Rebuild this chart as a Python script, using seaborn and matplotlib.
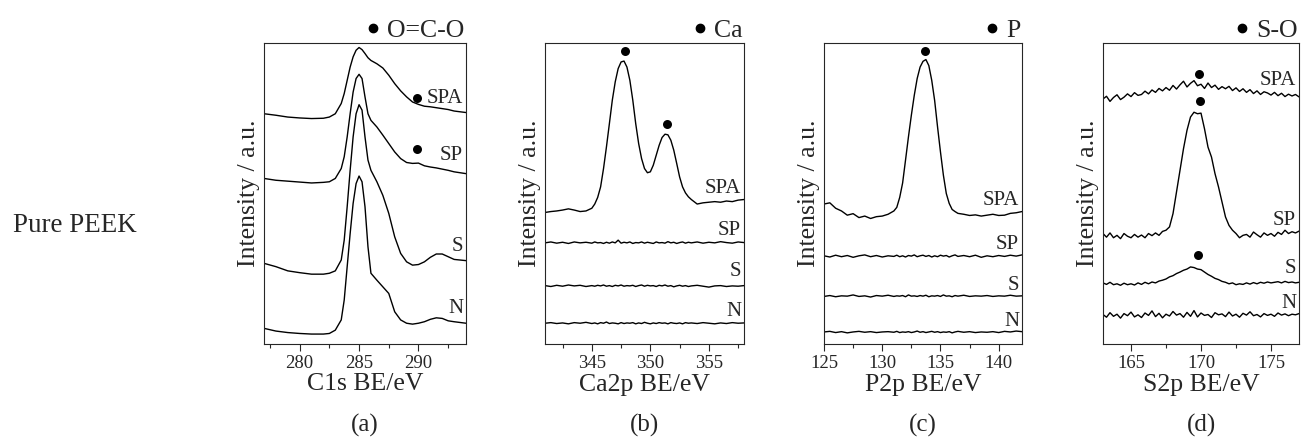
import matplotlib
matplotlib.use("Agg")
import matplotlib.pyplot as plt
from matplotlib.lines import Line2D
from matplotlib.ticker import MultipleLocator
import pandas as pd
import seaborn as sns

samples = ["SPA", "SP", "S", "N"]

# ---- (a) C1s ----
c1s_be = [277, 278, 279, 280, 281, 282, 282.5, 283, 283.5, 283.75,
          284, 284.25, 284.5, 284.75, 285, 285.25, 285.5, 285.75, 286, 286.5,
          287, 287.5, 288, 288.5, 289, 289.5, 290, 290.5, 291, 291.5,
          292, 292.5, 293, 294]
c1s_spa = [76.5, 76.0, 75.4, 75.1, 74.9, 75.0, 75.4, 76.5, 79.9, 83.2,
           87.6, 92.0, 95.4, 97.6, 98.5, 97.8, 96.5, 95.1, 94.2, 93.1,
           91.7, 89.3, 86.5, 84.1, 82.1, 80.4, 79.6, 79.0, 78.8, 78.5,
           78.2, 77.9, 77.4, 76.9]
c1s_sp = [55.0, 54.4, 54.1, 53.8, 53.5, 53.7, 53.9, 55.0, 58.3, 62.2,
          68.8, 76.5, 83.7, 88.2, 89.6, 88.2, 82.1, 76.5, 74.3, 72.1,
          69.4, 66.6, 63.8, 61.6, 60.3, 60.0, 60.1, 59.2, 58.8, 58.5,
          58.1, 57.7, 57.2, 56.6]
c1s_s = [26.8, 25.7, 24.3, 23.7, 23.2, 23.2, 23.5, 24.3, 27.9, 34.5,
         45.6, 57.7, 68.8, 76.5, 79.5, 77.7, 68.8, 61.1, 57.7, 53.9,
         49.4, 43.4, 35.6, 30.1, 27.3, 26.2, 26.4, 27.3, 28.8, 29.9,
         29.9, 29.0, 28.1, 27.7]
c1s_n = [5.2, 4.3, 3.8, 3.5, 3.3, 3.3, 3.5, 4.6, 8.0, 14.6,
         25.7, 36.7, 46.7, 53.3, 55.8, 53.9, 45.6, 32.3, 23.5, 21.2,
         19.0, 16.8, 10.7, 8.0, 6.9, 6.6, 6.9, 7.4, 8.2, 8.7,
         8.5, 7.7, 7.4, 6.9]
c1s_dot_x = [289.85, 289.85]
c1s_dot_y = [81.7, 64.9]

# ---- (b) Ca2p ----
ca_be = [341, 341.5, 342, 342.5, 343, 343.5, 344, 344.5, 345,
         345.25, 345.5, 345.75, 346, 346.25, 346.5, 346.75, 347, 347.25, 347.5,
         347.75, 348, 348.25, 348.5, 348.75, 349, 349.25, 349.5, 349.75, 350,
         350.25, 350.5, 350.75, 351, 351.25, 351.5, 351.75, 352, 352.25, 352.5,
         352.75, 353, 353.25, 353.5,
         354, 354.5, 355, 355.5, 356, 356.5, 357, 357.5, 358]
ca_spa = [43.7, 44.0, 44.2, 44.5, 44.9, 44.5, 44.0, 44.2, 45.1,
          46.5, 48.7, 52.2, 58.3, 65.5, 73.2, 81.0, 87.1, 91.5, 93.7,
          94.0, 92.0, 87.6, 81.0, 73.2, 66.6, 61.6, 58.3, 56.9, 57.2,
          59.4, 62.7, 66.0, 68.6, 69.7, 69.5, 67.7, 64.4, 60.0, 55.5,
          52.2, 50.2, 48.9, 48.0,
          46.5, 46.9, 47.1, 47.3, 47.1, 47.5, 47.3, 47.8, 48.0]
ca_sp = [33.6, 33.9, 33.5, 33.8, 33.4, 33.9, 33.6, 33.8, 33.5, 33.9,
         33.6, 33.7, 33.4, 33.8, 33.5, 33.9, 33.6, 34.5, 33.5, 33.8,
         33.6, 33.9, 33.4, 33.7, 33.6, 33.9, 33.5, 33.8, 33.6, 33.4,
         33.9, 33.6, 33.7, 33.5, 34.0, 33.6, 33.8, 33.4, 33.7, 33.9,
         33.5, 33.8, 33.6, 33.9, 33.5, 33.8, 33.6, 34.0, 33.7, 33.5,
         33.9, 33.7]
ca_s = [19.4, 19.1, 19.5, 19.2, 19.6, 19.3, 19.5, 19.1, 19.4, 19.2,
        19.5, 19.3, 19.6, 19.2, 19.4, 19.1, 19.5, 19.3, 19.6, 19.2,
        19.4, 19.3, 19.5, 19.1, 19.4, 19.6, 19.2, 19.5, 19.3, 19.4,
        19.1, 19.5, 19.3, 19.6, 19.2, 19.4, 19.0, 19.3, 19.5, 19.2,
        19.4, 19.1, 19.3, 19.5, 19.2, 18.9, 19.3, 19.4, 19.1, 19.3,
        19.2, 19.4]
ca_n = [6.9, 7.1, 6.8, 7.0, 6.7, 7.1, 6.9, 7.2, 6.8, 7.0,
        6.7, 7.1, 6.9, 7.3, 6.8, 7.0, 6.9, 6.7, 7.1, 6.8,
        7.0, 6.9, 7.1, 6.7, 7.0, 6.8, 7.2, 6.9, 6.7, 7.0,
        6.8, 7.1, 6.9, 7.0, 6.7, 7.1, 6.9, 6.8, 7.0, 6.7,
        7.1, 6.9, 7.0, 6.8, 7.1, 6.9, 6.7, 7.0, 6.8, 7.1,
        6.9, 7.0]
ca_dot_x = [347.8, 351.4]
ca_dot_y = [97.3, 73.2]

# ---- (c) P2p ----
p_be = [125, 125.5, 126, 126.5, 127, 127.5, 128, 128.5, 129, 129.5, 130, 130.5, 131,
        131.25, 131.5, 131.75, 132, 132.25, 132.5, 132.75, 133, 133.25, 133.5,
        133.75, 134, 134.25, 134.5, 134.75, 135, 135.25, 135.5, 135.75, 136,
        136.25, 136.5,
        137, 137.5, 138, 138.5, 139, 139.5, 140, 140.5, 141, 141.5, 142]
p_spa = [46.5, 46.9, 45.1, 44.2, 42.8, 43.3, 42.0, 42.5, 41.7, 42.3, 42.5, 43.1, 44.2,
         45.4, 48.7, 53.5, 61.1, 68.8, 76.0, 82.6, 88.2, 92.0, 93.9,
         94.5, 92.5, 87.6, 80.9, 72.1, 63.8, 56.1, 50.0, 46.7, 44.7,
         44.0, 43.4,
         43.1, 42.7, 42.9, 42.5, 42.8, 43.1, 42.7, 42.8, 43.4, 43.6, 44.0]
p_sp = [29.3, 28.9, 29.5, 29.0, 29.4, 28.8, 29.3, 29.6, 29.0, 29.4,
        28.9, 29.3, 29.1, 29.5, 29.0, 29.3, 28.9, 29.4, 29.2, 29.6,
        29.0, 29.3, 29.5, 29.1, 29.4, 28.9, 29.3, 29.0, 29.5, 29.2,
        29.4, 28.9, 29.3, 29.6, 29.1, 29.4, 29.0, 29.5, 28.8, 29.3,
        29.0, 29.4, 29.1, 29.5, 29.2, 29.6]
p_s = [15.8, 16.1, 15.7, 16.0, 15.9, 16.3, 15.8, 16.0, 15.6, 16.1,
       15.9, 16.2, 15.8, 16.0, 15.9, 16.1, 15.7, 16.3, 15.9, 16.0,
       15.8, 16.1, 15.9, 16.2, 15.7, 16.0, 15.9, 16.1, 15.8, 16.3,
       15.9, 16.0, 15.7, 16.1, 15.9, 16.2, 15.8, 16.0, 15.9, 16.1,
       15.8, 16.0, 15.9, 16.2, 15.9, 16.0]
p_n = [4.0, 4.2, 3.8, 4.1, 3.7, 4.0, 4.2, 3.9, 4.1, 3.8,
       4.0, 4.1, 3.9, 4.2, 3.8, 4.0, 3.9, 4.1, 3.8, 4.0,
       4.3, 3.9, 4.1, 3.8, 4.0, 4.2, 3.9, 4.1, 3.8, 4.0,
       3.9, 4.1, 3.7, 4.0, 4.2, 3.9, 4.1, 3.8, 4.0, 3.9,
       4.1, 3.8, 4.2, 4.0, 4.3, 4.1]
p_dot_x = [133.65]
p_dot_y = [97.3]

# ---- (d) S2p ----
s_be = [163, 163.25, 163.5, 163.75, 164, 164.25, 164.5, 164.75, 165, 165.25,
        165.5, 165.75, 166, 166.25, 166.5, 166.75, 167, 167.25, 167.5, 167.75,
        168, 168.25, 168.5, 168.75, 169, 169.25, 169.5, 169.75, 170, 170.25,
        170.5, 170.75, 171, 171.25, 171.5, 171.75, 172, 172.25, 172.5, 172.75,
        173, 173.25, 173.5, 173.75, 174, 174.25, 174.5, 174.75, 175, 175.25,
        175.5, 175.75, 176, 176.25, 176.5, 176.75, 177]
s_spa = [81.4, 82.3, 80.6, 81.9, 82.8, 81.2, 82.0, 83.1, 82.2, 83.5,
         82.6, 82.9, 84.0, 83.1, 84.4, 83.6, 84.9, 84.1, 85.2, 84.3,
         85.9, 84.7, 86.1, 87.3, 85.4, 86.6, 87.5, 85.8, 86.3, 84.9,
         86.7, 85.2, 86.0, 84.6, 85.5, 84.8, 85.6, 84.2, 85.1, 83.9,
         84.8, 83.6, 84.5, 83.2, 84.1, 82.9, 83.8, 83.4, 82.7, 83.6,
         82.5, 83.3, 82.2, 83.0, 82.4, 82.9, 82.1]
s_sp = [36.7, 35.5, 36.9, 35.3, 36.1, 35.0, 36.7, 35.8, 35.3, 36.4,
        35.5, 36.2, 35.3, 36.7, 36.0, 36.9, 36.1, 37.4, 37.8, 38.9,
        43.3, 50.5, 57.7, 64.9, 71.0, 75.4, 77.0, 76.5, 76.7, 71.5,
        65.4, 62.1, 56.6, 52.2, 47.2, 42.2, 39.4, 37.8, 36.7, 35.3,
        36.1, 36.4, 35.5, 37.2, 36.3, 35.5, 36.9, 36.1, 36.7, 35.8,
        37.1, 36.4, 37.8, 36.7, 37.3, 36.9, 37.5]
s_s = [20.3, 19.8, 20.5, 19.7, 20.0, 19.5, 20.2, 19.7, 20.0, 19.6,
       20.3, 19.8, 20.5, 20.0, 20.6, 20.3, 20.9, 21.2, 21.6, 22.3,
       22.7, 23.4, 23.9, 24.5, 24.9, 25.6, 25.4, 24.9, 24.7, 23.9,
       23.1, 22.5, 21.8, 21.4, 20.8, 20.5, 20.0, 20.3, 19.7, 20.0,
       19.8, 20.3, 19.9, 20.4, 20.0, 20.5, 20.2, 20.6, 20.3, 20.5,
       20.7, 20.3, 20.8, 20.4, 20.6, 20.3, 20.5]
s_n = [9.8, 8.9, 10.4, 9.2, 9.9, 8.6, 10.1, 9.4, 10.6, 9.0,
       9.7, 8.8, 10.3, 9.5, 11.0, 9.1, 10.2, 8.7, 9.9, 9.3,
       10.8, 9.6, 10.1, 8.9, 10.5, 9.2, 11.1, 9.0, 10.3, 9.5,
       9.8, 8.8, 10.4, 9.7, 10.0, 9.1, 10.6, 9.3, 9.9, 8.9,
       10.2, 9.6, 10.7, 9.4, 9.8, 9.0, 10.1, 9.5, 9.9, 9.2,
       10.3, 9.6, 10.0, 9.4, 9.9, 9.7, 10.1]
s_dot_x = [169.87, 169.9, 169.75]
s_dot_y = [89.8, 80.7, 29.7]

panels = [
    dict(be=c1s_be, curves=[c1s_spa, c1s_sp, c1s_s, c1s_n], xlim=(277, 294),
         xlabel="C1s BE/eV", legend="O=C-O", dx=c1s_dot_x, dy=c1s_dot_y, tag="(a)",
         box=(264, 466), label_y=[81.5, 62.7, 32.3, 11.8]),
    dict(be=ca_be, curves=[ca_spa, ca_sp, ca_s, ca_n], xlim=(341, 358),
         xlabel="Ca2p BE/eV", legend="Ca", dx=ca_dot_x, dy=ca_dot_y, tag="(b)",
         box=(545, 744), label_y=[51.7, 37.8, 24.0, 10.7]),
    dict(be=p_be, curves=[p_spa, p_sp, p_s, p_n], xlim=(125, 142),
         xlabel="P2p BE/eV", legend="P", dx=p_dot_x, dy=p_dot_y, tag="(c)",
         box=(824, 1022), label_y=[47.8, 32.9, 19.6, 7.4]),
    dict(be=s_be, curves=[s_spa, s_sp, s_s, s_n], xlim=(163, 177),
         xlabel="S2p BE/eV", legend="S-O", dx=s_dot_x, dy=s_dot_y, tag="(d)",
         box=(1103, 1299), label_y=[87.6, 41.1, 25.1, 13.4]),
]

sns.set_style("ticks")
plt.rcParams["font.family"] = ["Liberation Serif", "DejaVu Serif"]
plt.rcParams["axes.linewidth"] = 0.8

W, H = 1304, 441
fig = plt.figure(figsize=(W / 100, H / 100), dpi=100)

fig.text(75 / W, 1 - 225 / H, "Pure PEEK", ha="center", va="center", fontsize=19.5)

for p in panels:
    x0, x1 = p["box"]
    ax = fig.add_axes([x0 / W, (H - 344) / H, (x1 - x0) / W, 301 / H])

    rows = []
    for name, vals in zip(samples, p["curves"]):
        for e, v in zip(p["be"], vals):
            rows.append((name, e, v))
    df = pd.DataFrame(rows, columns=["sample", "be", "intensity"])

    sns.lineplot(data=df, x="be", y="intensity", units="sample", estimator=None,
                 color="black", linewidth=1.0, sort=False, legend=False, ax=ax)
    sns.scatterplot(x=p["dx"], y=p["dy"], color="black", s=42, edgecolor="black",
                    linewidth=0, legend=False, ax=ax, zorder=3)

    for name, ly in zip(samples, p["label_y"]):
        ax.annotate(name, xy=(1, ly), xycoords=ax.get_yaxis_transform(),
                    xytext=(-2, 0), textcoords="offset points",
                    ha="right", va="center", fontsize=15)

    h = Line2D([], [], marker="o", color="black", ls="none", markersize=6)
    ax.legend([h], [p["legend"]], loc="lower right", bbox_to_anchor=(1.0, 1.0),
              frameon=False, fontsize=18.5, handlelength=0.6, handletextpad=0.25,
              borderpad=0, borderaxespad=0.05)

    ax.set_xlim(*p["xlim"])
    ax.set_ylim(0, 100)
    ax.set_yticks([])
    ax.xaxis.set_major_locator(MultipleLocator(5))
    ax.xaxis.set_minor_locator(MultipleLocator(2.5))
    ax.tick_params(axis="x", which="major", direction="out", length=5, width=0.8,
                   labelsize=13.5, pad=3)
    ax.tick_params(axis="x", which="minor", direction="out", length=3, width=0.8)
    ax.set_xlabel(p["xlabel"], fontsize=18.5, labelpad=1)
    ax.set_ylabel("Intensity / a.u.", fontsize=18.5, labelpad=3)

    fig.text((x0 + x1) / 2 / W, 16 / H, p["tag"], ha="center", va="center", fontsize=18)

fig.savefig("out.png", dpi=100)
